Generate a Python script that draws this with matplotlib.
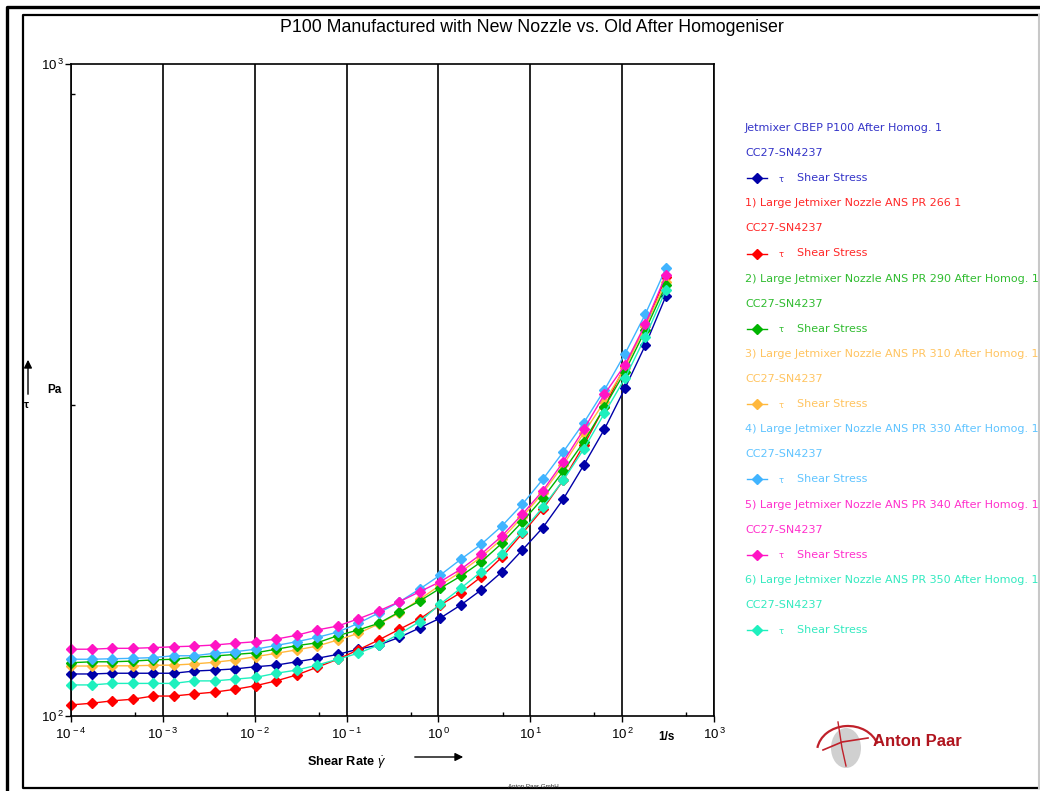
import numpy as np
import matplotlib.pyplot as plt
from matplotlib.lines import Line2D
from matplotlib.patches import Ellipse, Arc
from matplotlib.ticker import FixedLocator, FuncFormatter, NullFormatter

plt.rcParams['font.family'] = ['Liberation Sans', 'DejaVu Sans']
plt.rcParams['mathtext.fontset'] = 'custom'
plt.rcParams['mathtext.rm'] = 'Liberation Sans'
plt.rcParams['mathtext.it'] = 'Liberation Sans:italic'
plt.rcParams['mathtext.bf'] = 'Liberation Sans:bold'

# shear rate (1/s), 30 log-spaced points as measured
shear_rate = [0.0001, 0.0001672, 0.0002797, 0.0004677, 0.000782, 0.001308,
              0.002188, 0.003659, 0.00612, 0.01023, 0.01712, 0.02862,
              0.04786, 0.0800, 0.1338, 0.2239, 0.3745, 0.6262, 1.047,
              1.751, 2.929, 4.898, 8.193, 13.70, 22.91, 38.32, 64.09,
              107.2, 179.2, 299.8]

# shear stress (Pa)
tau_cbep = [116.0, 116.0, 116.3, 116.3, 116.3, 116.3, 117.2, 117.6, 118.1, 119.0,
            119.7, 121.1, 122.6, 124.3, 126.6, 128.5, 132.0, 136.5, 141.3, 148.0,
            156.1, 166.3, 179.7, 194.5, 215.2, 242.7, 275.3, 318.1, 370.7, 440.8]
tau_266 = [104.0, 104.6, 105.5, 106.1, 107.3, 107.3, 108.1, 108.8, 109.9, 111.3,
           113.2, 115.6, 118.8, 122.2, 126.3, 130.8, 135.8, 140.9, 148.0, 154.6,
           163.5, 175.2, 190.6, 207.7, 230.1, 260.4, 297.8, 344.3, 396.4, 471.4]
tau_290 = [120.7, 121.1, 121.1, 121.4, 121.9, 122.2, 123.0, 123.6, 124.3, 125.0,
           126.6, 128.2, 129.5, 132.8, 135.5, 138.7, 144.4, 150.1, 157.0, 163.9,
           172.4, 184.0, 198.6, 215.8, 237.5, 263.4, 297.5, 337.4, 390.8, 458.1]
tau_310 = [119.3, 119.3, 119.4, 119.4, 119.6, 119.7, 120.2, 120.9, 121.9, 123.3,
           124.8, 126.3, 128.0, 130.8, 133.9, 138.4, 143.9, 151.0, 158.8, 166.3,
           175.4, 186.8, 202.0, 219.8, 242.7, 271.9, 303.4, 341.8, 396.4, 463.6]
tau_330 = [122.2, 122.2, 122.4, 122.6, 122.9, 123.7, 123.7, 124.8, 125.5, 126.6,
           128.3, 130.0, 132.0, 134.5, 138.7, 143.9, 149.6, 156.6, 164.5, 173.9,
           183.4, 195.6, 211.2, 230.7, 254.3, 281.8, 316.2, 359.2, 413.6, 486.2]
tau_340 = [126.6, 126.6, 127.0, 127.0, 127.3, 127.7, 128.0, 128.5, 129.3, 130.0,
           131.2, 133.0, 135.5, 137.4, 140.9, 144.9, 149.7, 155.1, 160.7, 167.9,
           177.2, 188.8, 203.9, 221.6, 245.5, 275.3, 311.4, 345.5, 399.2, 474.8]
tau_350 = [111.6, 111.6, 112.2, 112.2, 112.2, 112.2, 113.2, 113.2, 113.9, 114.6,
           116.3, 117.6, 119.7, 122.2, 124.8, 128.5, 133.6, 139.6, 148.5, 157.0,
           166.5, 177.2, 191.8, 209.0, 230.1, 256.8, 291.2, 329.6, 381.7, 450.2]

series = [tau_cbep, tau_266, tau_290, tau_310, tau_330, tau_340, tau_350]
names = ['Jetmixer CBEP P100 After Homog. 1',
         '1) Large Jetmixer Nozzle ANS PR 266 1',
         '2) Large Jetmixer Nozzle ANS PR 290 After Homog. 1',
         '3) Large Jetmixer Nozzle ANS PR 310 After Homog. 1',
         '4) Large Jetmixer Nozzle ANS PR 330 After Homog. 1',
         '5) Large Jetmixer Nozzle ANS PR 340 After Homog. 1',
         '6) Large Jetmixer Nozzle ANS PR 350 After Homog. 1']
system = 'CC27-SN4237'
colors = ['#0000A8', '#FF0000', '#00B400', '#FFB83C', '#40B4FF', '#FF14C4', '#1EF0BE']
text_colors = ['#3434C8', '#FF2828', '#30BC30', '#FFC460', '#60C4FF', '#FF30CC', '#34EAC0']
draw_order = [0, 1, 3, 2, 4, 5, 6]

W, H = 1040, 791
def fx(x):
    return x / W
def fy(y):
    return 1 - y / H

fig = plt.figure(figsize=(10.4, 7.91), dpi=100)
ax = fig.add_axes([fx(71), fy(716), fx(714) - fx(71), fy(64) - fy(716)])

for i in draw_order:
    ax.plot(shear_rate, series[i], color=colors[i], marker='D', ms=5,
            lw=1.0, clip_on=False)

ax.set_xscale('log')
ax.set_yscale('log')
ax.set_xlim(1e-4, 1e3)
ax.set_ylim(100, 1000)

ax.xaxis.set_major_locator(FixedLocator([10.0 ** k for k in range(-4, 4)]))
ax.xaxis.set_minor_locator(FixedLocator([5 * 10.0 ** k for k in range(-4, 3)]))
ax.yaxis.set_major_locator(FixedLocator([100, 1000]))
ax.yaxis.set_minor_locator(FixedLocator([300, 900]))
fmt = FuncFormatter(lambda v, _: r'$10^{\,%d}$' % round(np.log10(v)))
ax.xaxis.set_major_formatter(fmt)
ax.yaxis.set_major_formatter(fmt)
ax.xaxis.set_minor_formatter(NullFormatter())
ax.yaxis.set_minor_formatter(NullFormatter())

ax.tick_params(which='major', direction='out', length=4, width=1, labelsize=9.5)
ax.tick_params(axis='x', which='major', pad=4)
ax.tick_params(axis='y', which='major', pad=1)
ax.tick_params(which='minor', direction='in', length=3, width=1)
ax.grid(True, axis='x', which='major', color='black', lw=1.2)
for s in ax.spines.values():
    s.set_color('black')
    s.set_linewidth(1.2)

# title and axis labels
fig.text(fx(532), fy(27), 'P100 Manufactured with New Nozzle vs. Old After Homogeniser',
         fontsize=12.8, ha='center', va='center')
fig.text(fx(307), fy(763), r'Shear Rate $\dot{\gamma}$', fontsize=9.2,
         fontweight='bold', va='center')
fig.text(fx(658), fy(737), '1/s', fontsize=8.5, fontweight='bold', va='center')
fig.text(fx(47), fy(390), 'Pa', fontsize=8.5, fontweight='bold', va='center')
fig.text(fx(24), fy(405), 'τ', fontsize=8, fontweight='bold', va='center')
ax.annotate('', xy=(fx(466), fy(757)), xytext=(fx(412), fy(757)),
            xycoords='figure fraction', textcoords='figure fraction',
            arrowprops=dict(arrowstyle='-|>', color='black', lw=1, mutation_scale=12),
            annotation_clip=False)
ax.annotate('', xy=(fx(28), fy(357)), xytext=(fx(28), fy(397)),
            xycoords='figure fraction', textcoords='figure fraction',
            arrowprops=dict(arrowstyle='-|>', color='black', lw=1, mutation_scale=12),
            annotation_clip=False)

# legend panel
row0, dy = 128, 25.1
for i, name in enumerate(names):
    y1 = row0 + dy * 3 * i
    fig.text(fx(745), fy(y1), name, color=text_colors[i], fontsize=8,
             family='DejaVu Sans', va='center')
    fig.text(fx(745), fy(y1 + dy), system, color=text_colors[i], fontsize=8,
             family='DejaVu Sans', va='center')
    y3 = y1 + 2 * dy
    fig.add_artist(Line2D([fx(747), fx(767)], [fy(y3), fy(y3)], color=colors[i], lw=1.0))
    fig.add_artist(Line2D([fx(757)], [fy(y3)], color=colors[i], marker='D', ms=5))
    fig.text(fx(779), fy(y3 + 1), 'τ', color=text_colors[i], fontsize=6,
             family='DejaVu Sans', va='center')
    fig.text(fx(797), fy(y3), 'Shear Stress', color=text_colors[i], fontsize=8,
             family='DejaVu Sans', va='center')

# logo
fig.add_artist(Ellipse((fx(846), fy(748)), 30 / W, 40 / H, facecolor='#D0D0D0',
                       edgecolor='none', transform=fig.transFigure))
fig.add_artist(Arc((fx(848), fy(752)), 62 / W, 52 / H, theta1=20, theta2=170,
                   color='#C0202A', lw=1.6, transform=fig.transFigure))
fig.add_artist(Line2D([fx(823), fx(842), fx(868)], [fy(750), fy(742), fy(738)],
                      color='#C0202A', lw=1.2))
fig.add_artist(Line2D([fx(838), fx(842), fx(846)], [fy(722), fy(748), fy(766)],
                      color='#C0202A', lw=1.0))
fig.text(fx(873), fy(742), 'Anton Paar', color='#B0141E', fontsize=12,
         fontweight='bold', va='center')
fig.text(fx(533), fy(786), 'Anton Paar GmbH', fontsize=4.5, ha='center',
         va='center', color='#333333')

# page frame
fig.add_artist(Line2D([fx(6.5), fx(6.5), fx(1040)], [fy(791), fy(6.5), fy(6.5)],
                      color='black', lw=2.4))
fig.add_artist(Line2D([fx(1039), fx(23), fx(23), fx(1039)],
                      [fy(15), fy(15), fy(788), fy(788)], color='black', lw=1.6))
fig.add_artist(Line2D([fx(1039), fx(1039)], [fy(15), fy(788)], color='#C8C8C8', lw=1.5))

fig.savefig('out.png', dpi=100)
